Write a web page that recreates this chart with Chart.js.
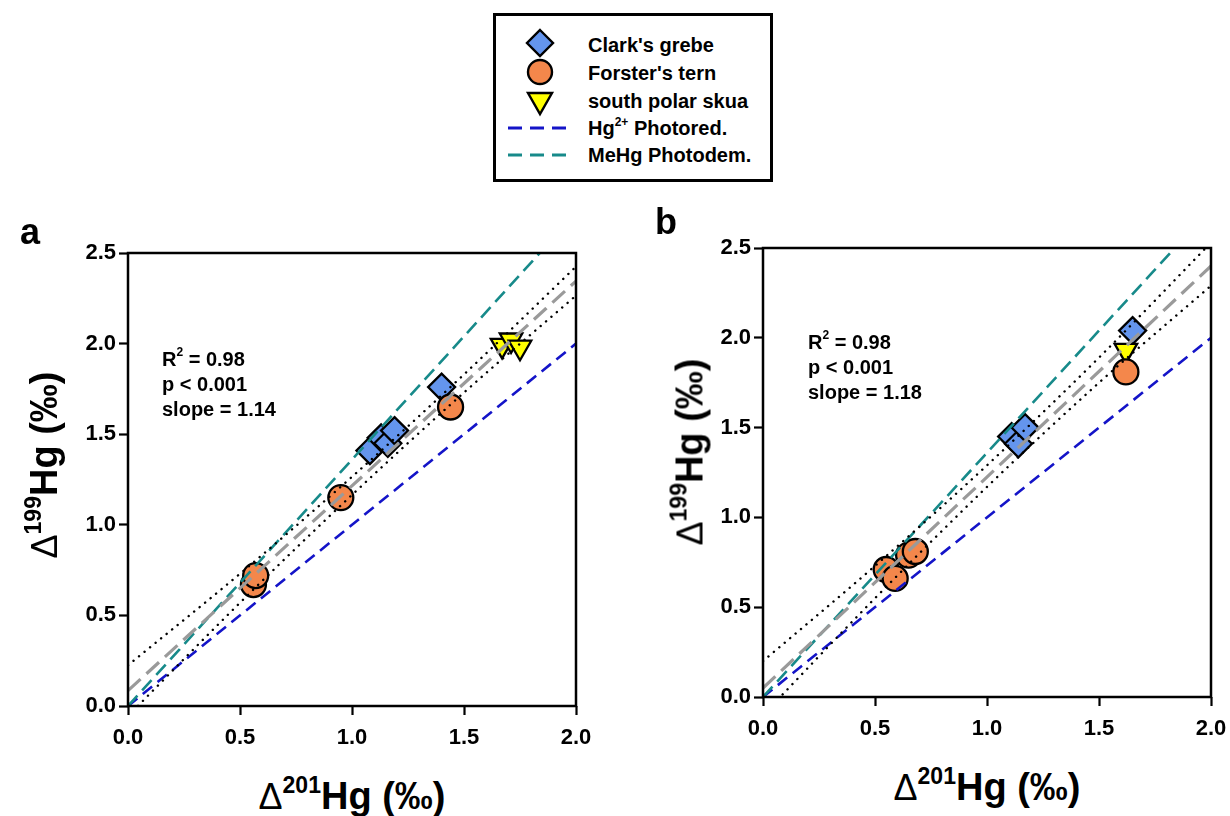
<!DOCTYPE html>
<html><head><meta charset="utf-8">
<script src="https://cdn.jsdelivr.net/npm/chart.js@4.4.0/dist/chart.umd.min.js"></script>
<style>
body{margin:0;background:#fff;width:1230px;height:816px;position:relative;overflow:hidden;font-family:"Liberation Sans",Arial,sans-serif;color:#000;}
canvas{position:absolute;}
#legend{position:absolute;left:493px;top:13px;width:280px;height:169px;border:3px solid #000;box-sizing:border-box;background:#fff;}
.lt{position:absolute;left:588px;font-weight:bold;font-size:20px;transform:translateY(-50%);white-space:nowrap;}
.lt sup{font-size:12px;position:relative;top:-1px;}
.glyph{position:absolute;}
.ann{position:absolute;font-weight:bold;font-size:20px;line-height:25px;white-space:nowrap;}
.ann sup{font-size:12px;position:relative;top:-2px;}
.plab{position:absolute;font-weight:bold;font-size:36px;transform:translateY(-50%);}
.title{position:absolute;font-weight:bold;font-size:38px;white-space:nowrap;line-height:44px;}
.title .dl{font-weight:normal;font-size:36px;}
.title .sp{font-size:23px;position:relative;top:-16px;}
.xt{transform:translate(-50%,-50%);}
.yt{transform:translate(-50%,-50%) rotate(-90deg);}
</style></head><body>

<div id="legend"></div>
<svg class="glyph" style="left:0;top:0" width="1230" height="200">
  <polygon points="540,30 553,43 540,56 527,43" fill="#6495ED" stroke="#000" stroke-width="2.4"/>
  <circle cx="540" cy="72" r="12" fill="#F4874B" stroke="#000" stroke-width="2.4"/>
  <polygon points="528,93 552,93 540,114" fill="#FFFF00" stroke="#000" stroke-width="2.4"/>
  <line x1="508" y1="128" x2="574" y2="128" stroke="#1414C8" stroke-width="2.8" stroke-dasharray="14,8"/>
  <line x1="508" y1="155" x2="574" y2="155" stroke="#178A8A" stroke-width="2.8" stroke-dasharray="14,8"/>
</svg>
<div class="lt" style="top:45px">Clark's grebe</div>
<div class="lt" style="top:73px">Forster's tern</div>
<div class="lt" style="top:101px">south polar skua</div>
<div class="lt" style="top:128px">Hg<sup>2+</sup> Photored.</div>
<div class="lt" style="top:155px">MeHg Photodem.</div>

<canvas id="ca" width="610" height="560" style="left:0;top:200px;width:610px;height:560px"></canvas>
<canvas id="cb" width="600" height="560" style="left:640px;top:195px;width:600px;height:560px"></canvas>

<div class="plab" style="left:20px;top:232px">a</div>
<div class="plab" style="left:655px;top:222px">b</div>

<div class="ann" style="left:162px;top:342px">R<sup>2</sup> = 0.98<br>p &lt; 0.001<br>slope = 1.14</div>
<div class="ann" style="left:808px;top:325px">R<sup>2</sup> = 0.98<br>p &lt; 0.001<br>slope = 1.18</div>

<div class="title xt" style="left:352px;top:798px"><span class="dl">Δ</span><span class="sp">201</span>Hg (‰)</div>
<div class="title xt" style="left:987px;top:789px"><span class="dl">Δ</span><span class="sp">201</span>Hg (‰)</div>
<div class="title yt" style="left:46px;top:465px"><span class="dl">Δ</span><span class="sp">199</span>Hg (‰)</div>
<div class="title yt" style="left:692px;top:452px"><span class="dl">Δ</span><span class="sp">199</span>Hg (‰)</div>

<script>
// ---- shared tick values ----
const ticksX = [0, 0.5, 1.0, 1.5, 2.0];
const ticksY = [0, 0.5, 1.0, 1.5, 2.0, 2.5];

// ---- reference lines (endpoints) ----
const refX = [0, 2];
const photoredY = [0, 2.0];     // Hg2+ photoreduction, slope 1.0
const photodemY = [0, 2.72];    // MeHg photodemethylation, slope 1.36

// ---- panel a ----
const aGrebeX = [1.08, 1.13, 1.16, 1.19, 1.40];
const aGrebeY = [1.41, 1.48, 1.45, 1.52, 1.76];
const aTernX = [0.56, 0.57, 0.95, 1.44];
const aTernY = [0.67, 0.72, 1.15, 1.65];
const aSkuaX = [1.67, 1.71, 1.75];
const aSkuaY = [1.99, 2.02, 1.98];
const aFitY = [0.085, 2.345];
const bandX = [0, 0.5, 1.0, 1.5, 2.0];
const aUpperY = [0.225, 0.73, 1.265, 1.83, 2.425];
const aLowerY = [-0.055, 0.57, 1.165, 1.73, 2.265];

// ---- panel b ----
const bGrebeX = [1.11, 1.14, 1.17, 1.65];
const bGrebeY = [1.45, 1.41, 1.50, 2.04];
const bTernX = [0.55, 0.59, 0.65, 0.68, 1.62];
const bTernY = [0.71, 0.66, 0.79, 0.81, 1.81];
const bSkuaX = [1.62];
const bSkuaY = [1.93];
const bFitY = [0.05, 2.40];
const bUpperY = [0.20, 0.73, 1.29, 1.89, 2.53];
const bLowerY = [-0.10, 0.55, 1.17, 1.75, 2.29];

const pts = (xs, ys) => xs.map((x, i) => ({x: x, y: ys[i]}));
const FONT = "'Liberation Sans', Arial, sans-serif";

const frame = {
  id: 'frame',
  afterDraw(chart) {
    const a = chart.chartArea, c = chart.ctx;
    c.save();
    c.strokeStyle = '#000';
    c.lineWidth = 2.5;
    c.strokeRect(a.left, a.top, a.right - a.left, a.bottom - a.top);
    c.restore();
  }
};

function lineDs(data, color, width, dash, cap) {
  return {type: 'line', data: data, borderColor: color, borderWidth: width, borderDash: dash,
          borderCapStyle: cap || 'butt', pointRadius: 0, fill: false, showLine: true,
          cubicInterpolationMode: 'monotone', tension: 0.4};
}
function markerDs(data, style, fill, rot, r) {
  return {type: 'scatter', data: data, pointStyle: style, pointRadius: r || 13, pointRotation: rot || 0,
          backgroundColor: fill, borderColor: '#000', pointBorderWidth: 2.3, borderWidth: 2.3, showLine: false};
}

function makeChart(id, yWidth, xHeight, padRight, d) {
  return new Chart(document.getElementById(id), {
    type: 'scatter',
    data: {datasets: [
      lineDs(pts(bandX, d.upper), '#000', 2.4, [0.1, 7], 'round'),
      lineDs(pts(bandX, d.lower), '#000', 2.4, [0.1, 7], 'round'),
      lineDs(pts(refX, d.fit), '#9A9A9A', 3.2, [17, 8]),
      lineDs(pts(refX, photodemY), '#178A8A', 2.6, [14, 7]),
      lineDs(pts(refX, photoredY), '#1414C8', 2.6, [12, 7]),
      markerDs(pts(d.ternX, d.ternY), 'circle', '#F4874B', 0, 12.5),
      markerDs(pts(d.skuaX, d.skuaY), 'triangle', '#FFFF00', 180, 13),
      markerDs(pts(d.grebeX, d.grebeY), 'rectRot', '#6495ED', 0, 13.5)
    ]},
    options: {
      responsive: false, animation: false,
      layout: {padding: {top: 53, right: padRight, left: 0, bottom: 0}},
      plugins: {legend: {display: false}, tooltip: {enabled: false}},
      scales: {
        x: {type: 'linear', min: 0, max: 2,
            afterBuildTicks: s => { s.ticks = ticksX.map(v => ({value: v})); },
            afterFit: s => { s.height = xHeight; },
            border: {display: false},
            grid: {drawOnChartArea: false, drawTicks: true, tickLength: 9, tickColor: '#000', tickWidth: 2.2},
            ticks: {color: '#000', padding: 10, font: {family: FONT, size: 22, weight: 'bold'},
                    callback: v => v.toFixed(1), maxRotation: 0}},
        y: {type: 'linear', min: 0, max: 2.5,
            afterBuildTicks: s => { s.ticks = ticksY.map(v => ({value: v})); },
            afterFit: s => { s.width = yWidth; },
            border: {display: false},
            grid: {drawOnChartArea: false, drawTicks: true, tickLength: 9, tickColor: '#000', tickWidth: 2.2},
            ticks: {color: '#000', padding: 3, font: {family: FONT, size: 22, weight: 'bold'},
                    callback: v => v.toFixed(1)}}
      }
    },
    plugins: [frame]
  });
}

makeChart('ca', 128, 54, 34, {upper: aUpperY, lower: aLowerY, fit: aFitY,
  grebeX: aGrebeX, grebeY: aGrebeY, ternX: aTernX, ternY: aTernY, skuaX: aSkuaX, skuaY: aSkuaY});
makeChart('cb', 123, 58, 29, {upper: bUpperY, lower: bLowerY, fit: bFitY,
  grebeX: bGrebeX, grebeY: bGrebeY, ternX: bTernX, ternY: bTernY, skuaX: bSkuaX, skuaY: bSkuaY});
</script>
</body></html>
